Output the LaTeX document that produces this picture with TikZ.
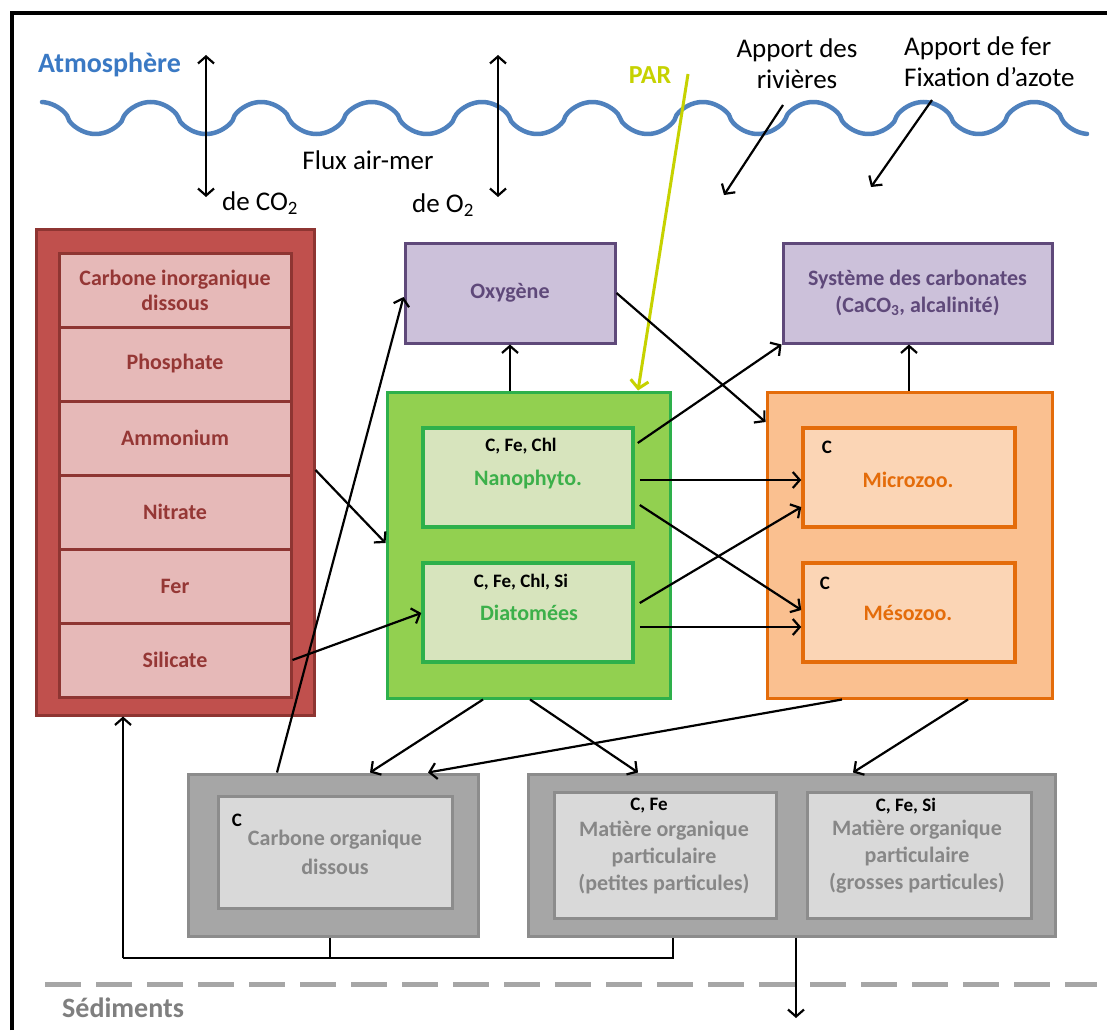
\documentclass[tikz,border=0pt]{standalone}
\usepackage{fontspec}
\setmainfont{Carlito}
\usetikzlibrary{arrows.meta,calc}
\definecolor{redfill}{HTML}{C0504D}
\definecolor{redborder}{HTML}{8E3532}
\definecolor{pinkfill}{HTML}{E6B9B8}
\definecolor{redtext}{HTML}{953735}
\definecolor{purfill}{HTML}{CCC1DA}
\definecolor{purborder}{HTML}{5F497A}
\definecolor{grnfill}{HTML}{92D050}
\definecolor{grnborder}{HTML}{2EB04B}
\definecolor{grnin}{HTML}{D7E4BD}
\definecolor{grntext}{HTML}{3CB04A}
\definecolor{orfill}{HTML}{FAC090}
\definecolor{orborder}{HTML}{E46C0A}
\definecolor{orin}{HTML}{FBD5B5}
\definecolor{gryfill}{HTML}{A6A6A6}
\definecolor{gryborder}{HTML}{8C8C8C}
\definecolor{gryin}{HTML}{D9D9D9}
\definecolor{grytext}{HTML}{878787}
\definecolor{wavecol}{HTML}{4F81BD}
\definecolor{atmo}{HTML}{3A79C4}
\definecolor{parcol}{HTML}{C6D200}
\definecolor{sedcol}{HTML}{7F7F7F}
\definecolor{dashcol}{HTML}{A6A6A6}
\newcommand\bxf{\fontsize{22}{25}\selectfont\bfseries}
\newcommand\smf{\fontsize{19}{22}\selectfont\bfseries}
\newcommand\anf{\fontsize{27}{31}\selectfont}
\newcommand\bigf{\fontsize{28}{32}\selectfont\bfseries}
\begin{document}
\begin{tikzpicture}[x=1pt,y=-1pt,
  box/.style={rectangle, inner sep=0pt, line width=3pt, align=center},
  redout/.style={box, draw=redborder, fill=redfill},
  redin/.style={box, draw=redborder, fill=pinkfill, line width=3pt, text=redtext, font=\bxf, minimum width=232pt, minimum height=74pt},
  purbox/.style={box, draw=purborder, fill=purfill, text=purborder, font=\bxf},
  grnout/.style={box, draw=grnborder, fill=grnfill},
  grninbox/.style={box, draw=grnborder, fill=grnin, line width=3.5pt, minimum width=210pt, minimum height=99pt},
  orout/.style={box, draw=orborder, fill=orfill},
  orinbox/.style={box, draw=orborder, fill=orin, line width=3.5pt, minimum width=212pt, minimum height=99pt},
  gryout/.style={box, draw=gryborder, fill=gryfill},
  gryinbox/.style={box, draw=gryborder, fill=gryin},
  lbl/.style={inner sep=0pt, font=\smf, text=black},
  conn/.style={line width=2.2pt, -{Straight Barb[length=7pt,width=16pt]}},
  plain/.style={line width=2.2pt},
  dbl/.style={line width=2.2pt, {Straight Barb[length=7pt,width=16pt]}-{Straight Barb[length=7pt,width=16pt]}},
  ann/.style={inner sep=0pt, font=\anf, text=black, align=center}
]
\useasboundingbox (0,0) rectangle (1107,1030);
\fill[white] (0,0) rectangle (1107,1030);
% frame
\coordinate (fbl) at (12,1030);
\coordinate (ftl) at (12,13);
\coordinate (ftr) at (1107,13);
\draw[line width=4pt] (fbl) -- (ftl) -- (ftr);
% wave
\draw[wavecol, line width=4.5pt, line cap=round] plot[domain=42:1087, samples=500]
  (\x, {118 - 16*cos(3.26087*(\x-40.4))/((abs(cos(3.26087*(\x-40.4)))+0.0001)^0.35)});
\node[inner sep=0pt, anchor=west, font=\bigf, text=atmo] (atm) at (38,65) {Atmosphère};
% air-sea fluxes
\coordinate (c1t) at (206,55); \coordinate (c1b) at (206,197);
\coordinate (c2t) at (498,55); \coordinate (c2b) at (498,197);
\draw[dbl] (c1t) -- (c1b);
\draw[dbl] (c2t) -- (c2b);
\node[ann] (flux) at (368,160) {Flux air-mer};
\node[ann, anchor=west] (deco2) at (222,203) {de CO\textsubscript{2}};
\node[ann, anchor=west] (deo2) at (412,205) {de O\textsubscript{2}};
\node[inner sep=0pt, font=\fontsize{26}{30}\selectfont\bfseries, text=parcol] (par) at (650,75) {PAR};
\node[ann] (riv) at (797,64) {Apport des\\rivières};
\node[ann, align=left, anchor=west] (fer) at (904,62) {Apport de fer\\Fixation d’azote};
\coordinate (rivs) at (783,105); \coordinate (rive) at (724,195);
\coordinate (fers) at (932,100); \coordinate (fere) at (871,187);
\draw[conn] (rivs) -- (rive);
\draw[conn] (fers) -- (fere);
% left nutrient column
\node[redout, minimum width=278pt, minimum height=486pt] (red) at (175,472) {};
\node[redin] (cid) at (175,290) {Carbone inorganique\\dissous};
\node[redin] (pho) at (175,364) {Phosphate};
\node[redin] (amm) at (175,438) {Ammonium};
\node[redin] (nit) at (175,512) {Nitrate};
\node[redin] (fe) at (175,586) {Fer};
\node[redin] (sil) at (175,660) {Silicate};
% purple boxes
\node[purbox, minimum width=210pt, minimum height=100pt] (oxy) at (510,293) {Oxygène};
\node[purbox, minimum width=269pt, minimum height=100pt, font=\fontsize{22}{27}\selectfont\bfseries] (sys) at (917.5,293) {Système des carbonates\\(CaCO\textsubscript{3}, alcalinité)};
% phytoplankton
\node[grnout, minimum width=283pt, minimum height=306pt] (green) at (528.5,545) {};
\node[grninbox] (nano) at (528,477.5) {};
\node[grninbox] (diat) at (528,612.5) {};
\node[lbl] (nanol) at (521,446) {C, Fe, Chl};
\node[inner sep=0pt, font=\bxf, text=grntext] (nanot) at (528,480) {Nanophyto.};
\node[lbl] (diatl) at (521,582) {C, Fe, Chl, Si};
\node[inner sep=0pt, font=\bxf, text=grntext] (diatt) at (529,613) {Diatomées};
% zooplankton
\node[orout, minimum width=285pt, minimum height=306pt] (orange) at (909.5,545) {};
\node[orinbox] (micro) at (909,477.5) {};
\node[orinbox] (meso) at (909,612.5) {};
\node[lbl] (microl) at (827,447) {C};
\node[inner sep=0pt, font=\bxf, text=orborder] (microt) at (908,480) {Microzoo.};
\node[lbl] (mesol) at (825,583) {C};
\node[inner sep=0pt, font=\bxf, text=orborder] (mesot) at (908,613) {Mésozoo.};
% organic matter
\node[gryout, minimum width=290pt, minimum height=162pt] (doc) at (333,855) {};
\node[gryinbox, minimum width=234pt, minimum height=112pt] (doci) at (335,852) {};
\node[lbl] (docl) at (237,820) {C};
\node[inner sep=0pt, font=\fontsize{22}{29}\selectfont\bfseries, text=grytext, align=center] (doct) at (335,852) {Carbone organique\\dissous};
\node[gryout, minimum width=527pt, minimum height=162pt] (poc) at (791.5,855) {};
\node[gryinbox, minimum width=222pt, minimum height=126pt] (pocs) at (665.5,855) {};
\node[gryinbox, minimum width=224pt, minimum height=126pt] (pocl) at (919,855) {};
\node[lbl] (pocsl) at (649,806) {C, Fe};
\node[inner sep=0pt, font=\fontsize{22}{27}\selectfont\bfseries, text=grytext, align=center] (pocst) at (664,857) {Matière organique\\particulaire\\(petites particules)};
\node[lbl] (pocll) at (906,806) {C, Fe, Si};
\node[inner sep=0pt, font=\fontsize{22}{27}\selectfont\bfseries, text=grytext, align=center] (pocll2) at (917,857) {Matière organique\\particulaire\\(grosses particules)};
% PAR arrow
\coordinate (pars) at (688,74);
\draw[parcol, line width=3pt, -{Straight Barb[length=8pt,width=18pt]}] (pars) -- (green.north -| 638,0);
% connectors
\draw[conn] (red.east |- 0,470) -- (green.west |- 0,543);
\draw[conn] (sil.east) -- (diat.west |- 0,613);
\draw[conn] (doc.north -| 277,0) -- (oxy.west |- 0,297);
\draw[conn] (green.north -| 510,0) -- (oxy.south);
\draw[conn] (oxy.east) -- (orange.west |- 0,422);
\draw[conn] ($(nano.east |- 0,443)+(3,0)$) -- (sys.south west);
\draw[conn] ($(nano.east |- 0,480)+(5,0)$) -- (micro.west |- 0,480);
\draw[conn] ($(nano.east |- 0,505)+(5,0)$) -- (meso.west |- 0,610);
\draw[conn] ($(diat.east |- 0,603)+(5,0)$) -- (micro.west |- 0,507);
\draw[conn] ($(diat.east |- 0,627)+(5,0)$) -- (meso.west |- 0,627);
\draw[conn] (orange.north -| 909,0) -- (sys.south -| 909,0);
\draw[conn] (green.south -| 483,0) -- (doc.north -| 370,0);
\draw[conn] (green.south -| 530,0) -- (poc.north -| 638,0);
\draw[conn] (orange.south -| 842,0) -- (doc.north -| 428,0);
\draw[conn] (orange.south -| 968,0) -- (poc.north -| 853,0);
% return to nutrients
\coordinate (jl) at (123,958);
\coordinate (jd) at (330,958);
\coordinate (jp) at (673,958);
\draw[plain] (doc.south -| jd) -- (jd);
\draw[plain] (poc.south -| jp) -- (jp) -- (jl);
\draw[conn] (jl) -- (red.south -| jl);
% sedimentation
\coordinate (sedpt) at (796,1018);
\draw[conn] (poc.south -| sedpt) -- (sedpt);
% sediment line
\coordinate (dl) at (45,984); \coordinate (dr) at (1097,984);
\draw[dashcol, line width=5pt, dash pattern=on 36pt off 15pt] (dl) -- (dr);
\node[inner sep=0pt, anchor=west, font=\bigf, text=sedcol] (sed) at (62,1008) {Sédiments};
\end{tikzpicture}
\end{document}
